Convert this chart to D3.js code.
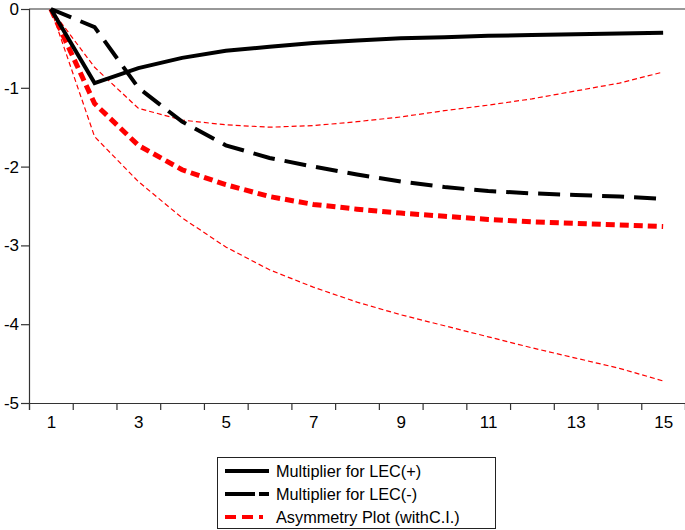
<!DOCTYPE html>
<html><head><meta charset="utf-8">
<script src="https://cdn.jsdelivr.net/npm/d3@7"></script>
<style>body{margin:0;background:#fff}svg{display:block}text{font-family:"Liberation Sans",Arial,sans-serif}</style>
</head><body>
<svg id="c" width="685" height="530"></svg>
<script>
const periods = [1,2,3,4,5,6,7,8,9,10,11,12,13,14,15];
const lecPos  = [0,-0.94,-0.75,-0.62,-0.53,-0.48,-0.43,-0.40,-0.37,-0.36,-0.34,-0.33,-0.32,-0.31,-0.30];
const lecNeg  = [0,-0.23,-1.00,-1.43,-1.73,-1.89,-2.00,-2.10,-2.19,-2.26,-2.31,-2.34,-2.36,-2.38,-2.41];
const asym    = [0,-1.20,-1.73,-2.04,-2.23,-2.38,-2.48,-2.54,-2.59,-2.63,-2.67,-2.70,-2.72,-2.74,-2.76];
const ciUpper = [0,-0.74,-1.26,-1.41,-1.47,-1.50,-1.48,-1.43,-1.37,-1.29,-1.22,-1.14,-1.04,-0.94,-0.80];
const ciLower = [0,-1.62,-2.19,-2.65,-3.02,-3.31,-3.53,-3.72,-3.88,-4.02,-4.16,-4.30,-4.43,-4.56,-4.72];
const yTicks = [0,-1,-2,-3,-4,-5];
const xLabels = [1,3,5,7,9,11,13,15];
const legendItems = ["Multiplier for LEC(+)","Multiplier for LEC(-)","Asymmetry Plot (withC.I.)"];

const svg = d3.select("#c");
const L=29, R=685, T=9, B=403;
const x = d3.scaleLinear().domain([0.5,15.5]).range([L,R]);
const y = d3.scaleLinear().domain([-5,0]).range([B,T]);
const axisColor = "#333";
const fmt = d => String(d);

// y axis
const ya = svg.append("g").attr("transform",`translate(${L},0)`)
  .call(d3.axisLeft(y).tickValues(yTicks).tickSize(8).tickPadding(2).tickFormat(fmt));
ya.select(".domain").attr("stroke",axisColor).attr("stroke-width",1.2);
ya.selectAll(".tick line").attr("stroke",axisColor).attr("stroke-width",1.2);
ya.selectAll("text").attr("font-size",17).attr("fill","#000").attr("font-family","Liberation Sans, Arial, sans-serif");

// top frame / zero line
svg.append("line").attr("x1",L).attr("x2",R).attr("y1",y(0)).attr("y2",y(0)).attr("stroke",axisColor).attr("stroke-width",1.2);

// x axis: ticks at boundaries
const boundaries = d3.range(0.5,15.6,1);
const xa = svg.append("g").attr("transform",`translate(0,${B})`)
  .call(d3.axisBottom(x).tickValues(boundaries).tickSize(7).tickFormat(""));
xa.select(".domain").attr("stroke",axisColor).attr("stroke-width",1.2);
xa.selectAll(".tick line").attr("stroke",axisColor).attr("stroke-width",1.2);
const xl = svg.append("g").attr("transform",`translate(0,${B})`)
  .call(d3.axisBottom(x).tickValues(xLabels).tickSize(0).tickPadding(13).tickFormat(fmt));
xl.select(".domain").remove();
xl.selectAll("text").attr("font-size",17).attr("fill","#000").attr("font-family","Liberation Sans, Arial, sans-serif");

const line = d3.line().x((d,i)=>x(periods[i])).y(d=>y(d));
const series = [
  {v:ciUpper, c:"#ff0000", w:1.2, da:"5,3"},
  {v:ciLower, c:"#ff0000", w:1.2, da:"5,3"},
  {v:asym, c:"#ff0000", w:5, da:"9,5"},
  {v:lecNeg, c:"#000", w:4, da:"22,10"},
  {v:lecPos, c:"#000", w:4, da:null},
];
series.forEach(s=>{
  svg.append("path").datum(s.v).attr("d",line).attr("fill","none")
    .attr("stroke",s.c).attr("stroke-width",s.w).attr("stroke-dasharray",s.da)
    .attr("stroke-linejoin","miter");
});

// legend
const lg = svg.append("g");
lg.append("rect").attr("x",217.5).attr("y",457.5).attr("width",278).attr("height",71)
  .attr("fill","#fff").attr("stroke","#222").attr("stroke-width",1);
const legStyles = [
  {c:"#000", w:4, da:null},
  {c:"#000", w:4, da:"30,4"},
  {c:"#ff0000", w:4, da:"11,6"},
];
legendItems.forEach((t,i)=>{
  const yy = 471 + i*23;
  lg.append("line").attr("x1",225).attr("x2",i==2?263:269).attr("y1",yy).attr("y2",yy)
    .attr("stroke",legStyles[i].c).attr("stroke-width",legStyles[i].w).attr("stroke-dasharray",legStyles[i].da);
  lg.append("text").attr("x",276).attr("y",yy+6).attr("font-size",16.3).attr("fill","#000").text(t);
});
</script>
</body></html>
